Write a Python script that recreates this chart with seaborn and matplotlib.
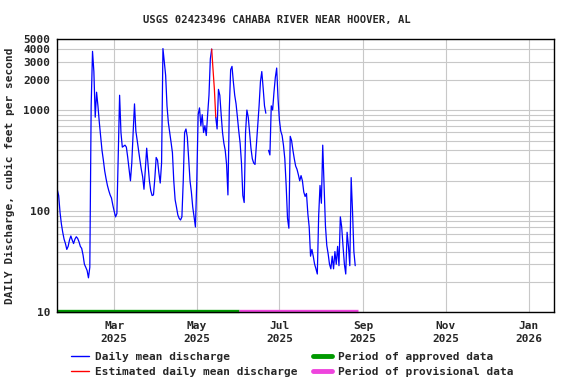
# plot.py - USGS daily discharge, Cahaba River near Hoover, AL
import numpy as np
import pandas as pd
import matplotlib
matplotlib.use("Agg")
import matplotlib.pyplot as plt
import matplotlib.dates as mdates
from matplotlib.ticker import FixedLocator, NullFormatter
from matplotlib.lines import Line2D
import seaborn as sns

title = "USGS 02423496 CAHABA RIVER NEAR HOOVER, AL"
ylabel = "DAILY Discharge, cubic feet per second"

# daily mean discharge (cfs), one value per day from start_date; NaN = missing day
start_date = "2025-01-18"
flow = [
    163, 143, 98, 75, 62, 53, 48, 42, 45, 52,
    57, 52, 48, 53, 56, 54, 50, 45, 43, 37,
    30, 28, 26, 22, 28, 1100, 3800, 2400, 850, 1500,
    1100, 760, 550, 400, 320, 250, 210, 180, 160, 145,
    135, 115, 100, 88, 95, 360, 1400, 600, 430, 440,
    450, 430, 340, 260, 200, 300, 600, 1150, 620, 500,
    400, 320, 260, 220, 165, 260, 420, 290, 200, 160,
    143, 145, 210, 340, 320, 240, 190, 300, 4050, 3000,
    2200, 1100, 750, 600, 480, 380, 200, 130, 110, 92,
    85, 82, 88, 200, 600, 650, 540, 330, 200, 155,
    110, 88, 70, 200, 900, 1050, 700, 900, 600, 700,
    560, 900, 1400, 3200, 4000, 2500, 1600, 850, 650, 1600,
    1400, 900, 600, 470, 400, 290, 145, 1000, 2500, 2700,
    1900, 1400, 1150, 850, 620, 470, 300, 143, 122, 600,
    1000, 850, 600, 420, 330, 300, 290, 450, 700, 1100,
    1900, 2400, 1650, 1100, 930, np.nan, 400, 360, 1100, 1000,
    1500, 2100, 2600, 1300, 800, 620, 560, 450, 330, 180,
    85, 68, 550, 500, 400, 330, 280, 260, 230, 200,
    225, 200, 155, 140, 150, 95, 70, 36, 42, 36,
    30, 27, 24, 90, 180, 120, 450, 180, 72, 46,
    38, 30, 27, 36, 27, 40, 30, 45, 29, 88,
    70, 45, 30, 24, 62, 45, 29, 215, 100, 40,
    29,
]
est_start, est_end = "2025-05-12", "2025-05-15"
approved_period = ("2025-01-18", "2025-06-01")
provisional_period = ("2025-06-01", "2025-08-28")
x_range = ("2025-01-18", "2026-01-20")

y_major = [10, 100, 1000, 2000, 3000, 4000, 5000]
y_minor = [20, 30, 40, 50, 60, 70, 80, 90, 200, 300, 400, 500, 600, 700, 800, 900]

legend_labels = ["Daily mean discharge", "Estimated daily mean discharge",
                 "Period of approved data", "Period of provisional data"]

df = pd.DataFrame({"date": pd.date_range(start_date, periods=len(flow)), "flow": flow})
# separate line pieces at missing days and around the estimated stretch
df["seg"] = df["flow"].isna().cumsum() * 2 + (df["date"] > est_start).astype(int)
df = df.dropna()
blue = df[~df["date"].between(est_start, est_end, inclusive="neither")]
red = df[df["date"].between(est_start, est_end)]

sns.set_style("white")
plt.rcParams["font.family"] = "DejaVu Sans Mono"
plt.rcParams["font.weight"] = "bold"
plt.rcParams["font.size"] = 8

fig = plt.figure(figsize=(5.76, 3.84), dpi=100)
ax = fig.add_axes([0.0995, 0.1862, 0.8628, 0.7115])

sns.lineplot(data=blue, x="date", y="flow", units="seg", estimator=None,
             color="#0000ff", lw=0.9, ax=ax, legend=False)
sns.lineplot(data=red, x="date", y="flow", estimator=None,
             color="#ff0000", lw=0.9, ax=ax, legend=False)

ax.set_yscale("log")
ax.set_ylim(10, 5000)
ax.set_xlim(pd.Timestamp(x_range[0]), pd.Timestamp(x_range[1]))
ax.yaxis.set_major_locator(FixedLocator(y_major))
ax.yaxis.set_major_formatter(plt.FuncFormatter(lambda v, p: f"{v:.0f}"))
ax.yaxis.set_minor_locator(FixedLocator(y_minor))
ax.yaxis.set_minor_formatter(NullFormatter())
ax.xaxis.set_major_locator(mdates.MonthLocator(bymonth=[1, 3, 5, 7, 9, 11]))
ax.xaxis.set_major_formatter(mdates.DateFormatter("%b\n%Y"))
ax.grid(which="both", color="#c8c8c8", lw=0.8)
ax.tick_params(which="both", length=0)
ax.tick_params(axis="y", pad=5)
ax.tick_params(axis="x", pad=6)
for lbl in ax.get_xticklabels():
    lbl.set_linespacing(1.35)
for s in ax.spines.values():
    s.set_color("black")
    s.set_linewidth(1.0)
ax.set_axisbelow(True)

# approval status bars along the bottom
tr = ax.get_xaxis_transform()
ax.plot([pd.Timestamp(approved_period[0]), pd.Timestamp(approved_period[1])], [0.007, 0.007],
        color="#009900", lw=2.4, transform=tr, solid_capstyle="butt", clip_on=False)
ax.plot([pd.Timestamp(provisional_period[0]), pd.Timestamp(provisional_period[1])], [0.007, 0.007],
        color="#ee44dd", lw=2.4, transform=tr, solid_capstyle="butt", clip_on=False)

fig.text(0.481, 0.948, title, ha="center", va="center", fontsize=7.6, fontweight="bold")
ax.set_xlabel("")
ax.set_ylabel(ylabel, fontsize=8, fontweight="bold", labelpad=6)

handles = [Line2D([], [], color="#0000ff", lw=1),
           Line2D([], [], color="#ff0000", lw=1),
           Line2D([], [], color="#009900", lw=3.5),
           Line2D([], [], color="#ee44dd", lw=3.5)]
fig.legend(handles, legend_labels, ncol=2, loc="upper left",
           bbox_to_anchor=(0.123, 0.084), frameon=False, borderpad=0,
           borderaxespad=0, handlelength=1.65, handletextpad=0.55,
           columnspacing=1.4, labelspacing=0.45, prop={"weight": "bold", "size": 8})

fig.savefig("out.png", dpi=100)
